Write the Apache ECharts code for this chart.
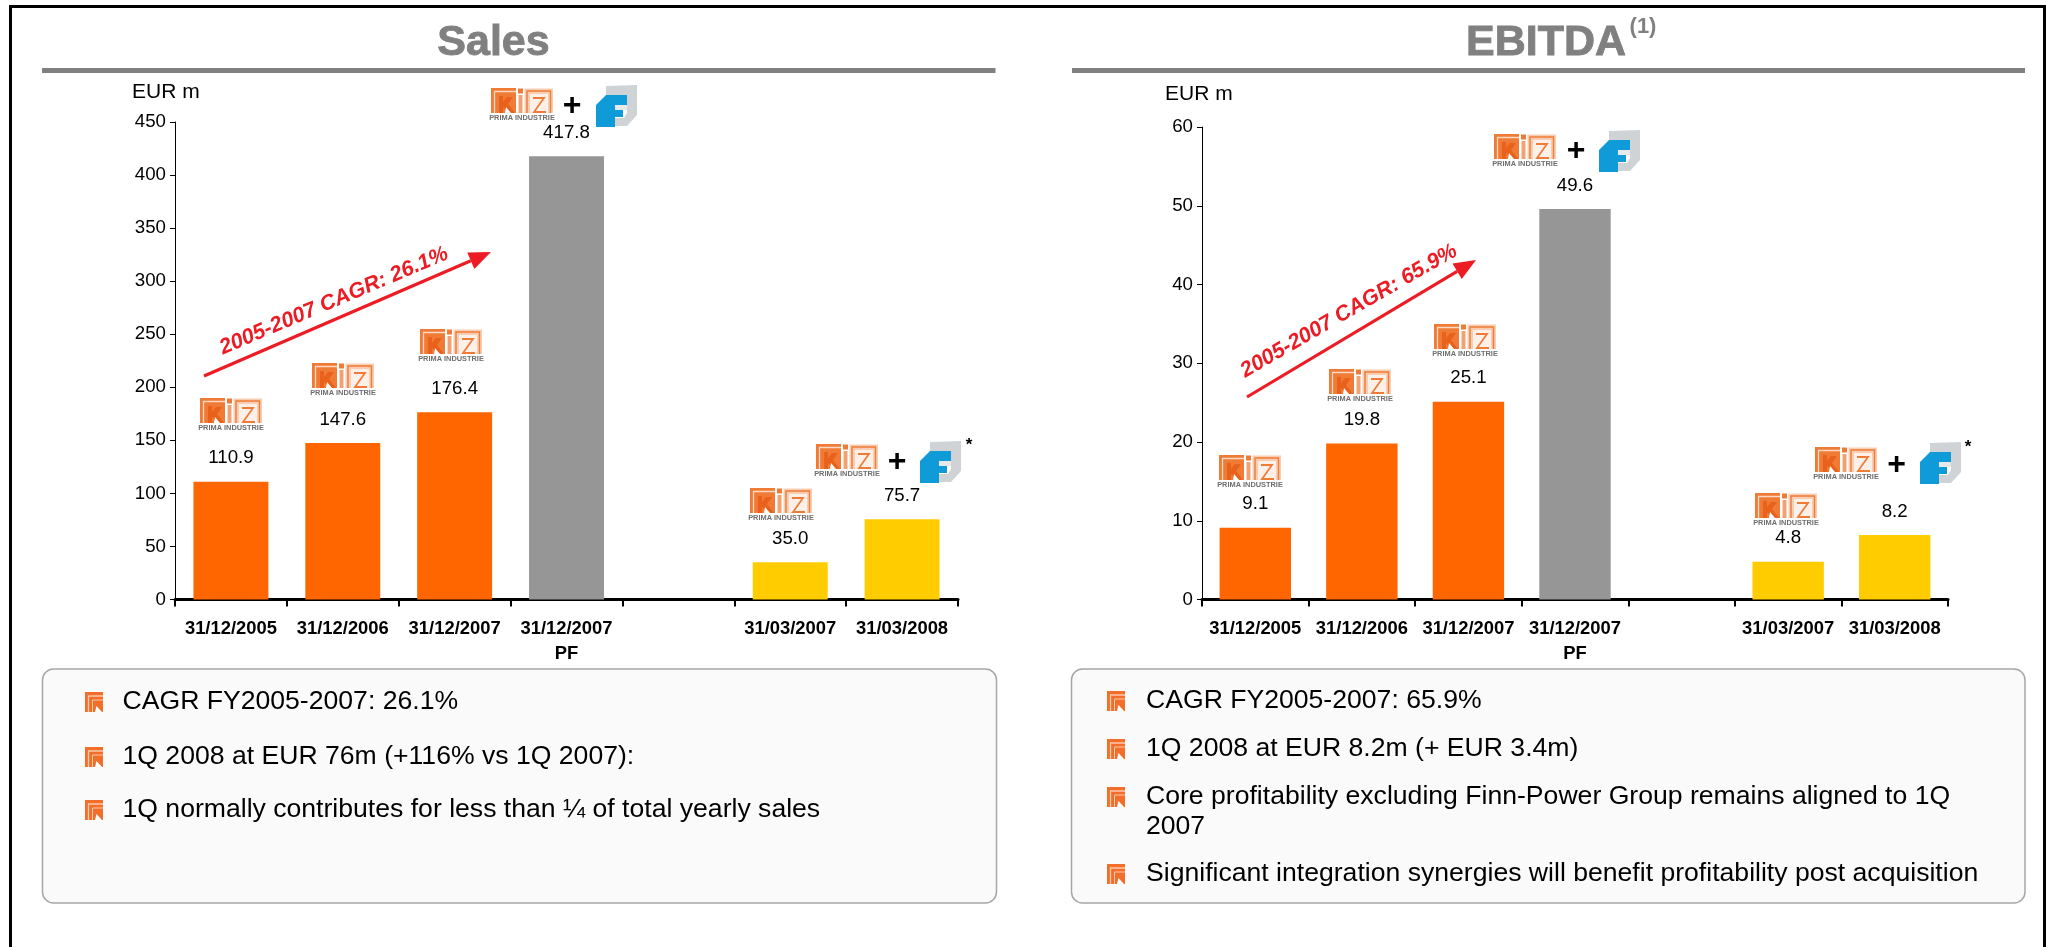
<!DOCTYPE html>
<html>
<head>
<meta charset="utf-8">
<style>html,body{margin:0;padding:0;background:#fff}#c{width:2046px;height:947px}</style>
<script src="https://cdn.jsdelivr.net/npm/echarts@6/dist/echarts.min.js"></script>
</head>
<body>
<div id="c"></div>
<script>
var categories = ['31/12/2005','31/12/2006','31/12/2007','31/12/2007\nPF','','31/03/2007','31/03/2008'];
var salesValues = [110.9,147.6,176.4,417.8,null,35.0,75.7];
var ebitdaValues = [9.1,19.8,25.1,49.6,null,4.8,8.2];
var barColors = ['#FF6600','#FF6600','#FF6600','#969696','#969696','#FFCC00','#FFCC00'];
var salesNotes = ['CAGR FY2005-2007: 26.1%','1Q 2008 at EUR 76m (+116% vs 1Q 2007):','1Q normally contributes for less than ¼ of total yearly sales'];
var ebitdaNotes = ['CAGR FY2005-2007: 65.9%','1Q 2008 at EUR 8.2m (+ EUR 3.4m)','Core profitability excluding Finn-Power Group remains aligned to 1Q\n2007','Significant integration synergies will benefit profitability post acquisition'];

var FONT = '"Liberation Sans", Arial, sans-serif';
var GREY = '#808080';

function txt(x,y,t,font,fill,align,rot){
  return {type:'text',x:x,y:y,rotation:rot||0,z:20,style:{text:t,font:font,fill:fill||'#000',textAlign:align||'left',textVerticalAlign:'middle'}};
}
function rect(x,y,w,h,fill){return {type:'rect',shape:{x:x,y:y,width:w,height:h},style:{fill:fill},z:20};}
function poly(pts,fill){return {type:'polygon',shape:{points:pts},style:{fill:fill},z:20};}
function pline(pts,stroke,w){return {type:'polyline',shape:{points:pts},style:{stroke:stroke,lineWidth:w,fill:null},z:20};}

function prima(x,y){
  var o='#EF7B36', l='#F8CDB2';
  return {type:'group',x:x,y:y,z:20,children:[
    rect(0,0,25,25,o),
    pline([[25,3.5],[3.5,3.5],[3.5,25]],'#FBD9C4',1.3),
    poly([[8,8],[8,25],[12,25],[12,19],[18,25],[24,25],[17,16],[22,9],[16,9],[12,14],[12,8]],'#E9611A'),
    poly([[14,25],[20,25],[15,19]],'#FFFFFF'),
    rect(27,0.5,5,5,o),
    rect(27.5,7,4,18,'#F3A173'),
    rect(33.5,0.5,28.5,24.5,l),
    pline([[36,25],[36,3],[59.5,3],[59.5,25]],o,1.4),
    rect(39,6,18,19,'#FDF0E8'),
    pline([[42,10],[53,10],[43,24],[55,24]],o,1.8),
    {type:'text',x:31,y:29.5,z:20,style:{text:'PRIMA INDUSTRIE',font:'bold 7.4px '+FONT,fill:'#6E6E6E',textAlign:'center',textVerticalAlign:'middle'}}
  ]};
}
function finn(x,y){
  return {type:'group',x:x,y:y,z:20,children:[
    poly([[10,1],[41,0],[41,30],[31,41],[19,41],[19,33],[28,33],[31,28],[31,10],[10,10]],'#D0D3D6'),
    rect(19,20,12,5,'#E6E8EA'),
    poly([[0,20],[10,10],[31,10],[31,20],[19,20],[19,25],[27,25],[27,32],[19,32],[19,42],[0,42]],'#0E9BD8')
  ]};
}
function plus(x,y){return txt(x,y,'+','bold 32px '+FONT,'#000','center');}
function bullet(x,y){
  var o='#F26E2A';
  return {type:'group',x:x,y:y-10,z:20,children:[
    rect(0,0,18,20,o),
    pline([[18,4],[3.5,4],[3.5,20]],'#FBC9AB',1.3),
    pline([[18,8],[7.5,8],[7.5,20]],'#FBC9AB',1),
    poly([[10,20],[17,20],[11.5,14]],'#FFFFFF')
  ]};
}
function arrow(x1,y1,x2,y2){
  var a=Math.atan2(y2-y1,x2-x1), L=22, W=9;
  var bx=x2-L*Math.cos(a), by=y2-L*Math.sin(a);
  var nx=-Math.sin(a)*W, ny=Math.cos(a)*W;
  return [
    {type:'line',shape:{x1:x1,y1:y1,x2:bx,y2:by},style:{stroke:'#ED1C24',lineWidth:3.2},z:20},
    poly([[x2,y2],[bx+nx,by+ny],[bx-nx,by-ny]],'#ED1C24')
  ];
}
function panel(x,y,w,h){
  return {type:'rect',shape:{x:x,y:y,width:w,height:h,r:11},style:{fill:'#FAFAFA',stroke:'#A6A6A6',lineWidth:1.5},z:1};
}
function title(x,t){
  var e=txt(x,43,t,'bold 43px '+FONT,GREY,'center');
  e.style.stroke=GREY; e.style.lineWidth=0.9;
  return e;
}
var bulletFont='26.6px '+FONT;
var g=[
  rect(9,5,2037,3,'#000'),
  rect(9,5,3,942,'#000'),
  rect(2043,5,3,942,'#000'),
  rect(42,68,953.5,5,GREY),
  rect(1072,68,953,5,GREY),
  title(493.5,'Sales'),
  title(1546,'EBITDA'),
  txt(1643,27,'(1)','bold 22px '+FONT,GREY,'center'),
  txt(132,92,'EUR m','21px '+FONT),
  txt(1165,94,'EUR m','21px '+FONT),
  panel(42.5,669,954,234),
  panel(1071.5,669,953.5,234),
  prima(200,398),prima(312,363),prima(420,329),prima(491,88),prima(816,444),prima(750,488),
  finn(596,85),finn(920,441),plus(572,106),plus(897,462),txt(969,445,'*','bold 17px '+FONT,'#000','center'),
  prima(1219,455),prima(1329,369),prima(1434,324),prima(1494,134),prima(1815,447),prima(1755,493),
  finn(1599,130),finn(1920,442),plus(1576,151),plus(1896.5,465),txt(1968,447,'*','bold 17px '+FONT,'#000','center'),
  txt(334,301,'2005-2007 CAGR: 26.1%','italic bold 21.5px '+FONT,'#ED1C24','center',23*Math.PI/180),
  txt(1349,311,'2005-2007 CAGR: 65.9%','italic bold 21.5px '+FONT,'#ED1C24','center',30*Math.PI/180)
].concat(arrow(204,376,491,252),arrow(1247,397,1476,260));

var leftY=[702,757,810], rightY=[701,749,797,874];
salesNotes.forEach(function(t,i){g.push(bullet(85,leftY[i]));g.push(txt(122.5,leftY[i],t,bulletFont));});
ebitdaNotes.forEach(function(t,i){
  var parts=t.split('\n');
  g.push(bullet(1107,rightY[i]));
  g.push(txt(1146,rightY[i],parts[0],bulletFont));
  if(parts[1]) g.push(txt(1146,rightY[i]+30,parts[1],bulletFont));
});

function xAxis(idx){
  return {type:'category',gridIndex:idx,data:categories,
    axisLine:{show:true,onZero:true,lineStyle:{color:'#000',width:3}},
    axisTick:{show:true,alignWithLabel:false,length:7,inside:false,lineStyle:{color:'#000',width:2}},
    axisLabel:{interval:0,margin:17,fontFamily:FONT,fontWeight:'bold',fontSize:18.4,color:'#000',lineHeight:25,verticalAlign:'top'}};
}
function yAxis(idx,max,step){
  return {type:'value',gridIndex:idx,min:0,max:max,interval:step,splitLine:{show:false},
    axisLine:{show:true,lineStyle:{color:'#000',width:1}},
    axisTick:{show:true,length:5,lineStyle:{color:'#000',width:1}},
    axisLabel:{margin:9,fontFamily:FONT,fontSize:18.7,color:'#000'}};
}
function series(idx,vals){
  return {type:'bar',xAxisIndex:idx,yAxisIndex:idx,barWidth:'67%',z:3,
    data:vals.map(function(v,i){return {value:v,itemStyle:{color:barColors[i]}};}),
    label:{show:true,position:'top',distance:14,fontFamily:FONT,fontSize:18.7,color:'#000',
      formatter:function(p){return p.value==null?'':Number(p.value).toFixed(1);}}};
}
var chart=echarts.init(document.getElementById('c'),null,{renderer:'canvas'});
chart.setOption({
  animation:false,
  backgroundColor:'#fff',
  grid:[
    {left:175,top:122,width:783,height:477.5,containLabel:false},
    {left:1202,top:127,width:746,height:472.5,containLabel:false}
  ],
  xAxis:[xAxis(0),xAxis(1)],
  yAxis:[yAxis(0,450,50),yAxis(1,60,10)],
  series:[series(0,salesValues),series(1,ebitdaValues)],
  graphic:g
});
</script>
</body>
</html>
